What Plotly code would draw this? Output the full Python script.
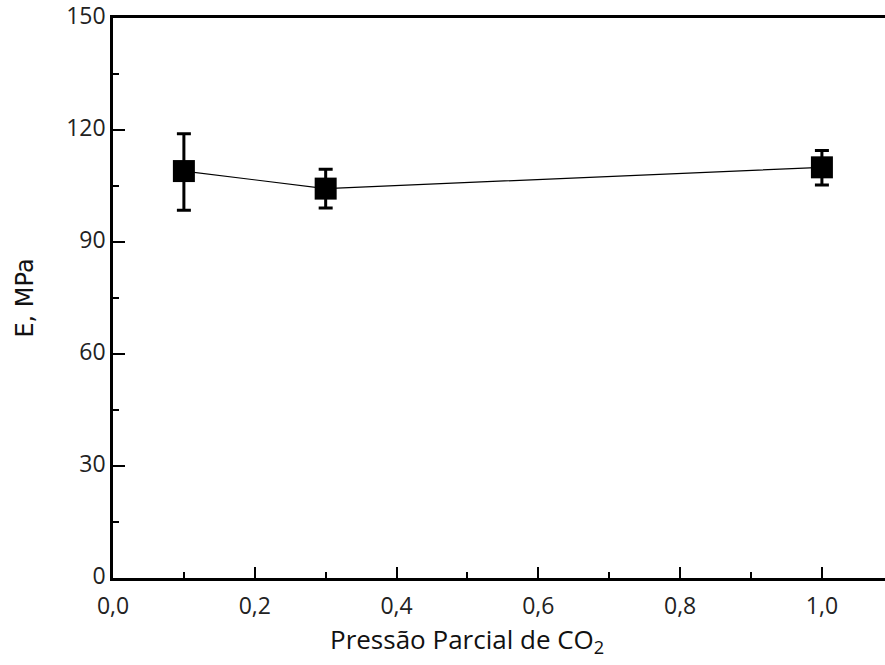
import plotly.graph_objects as go

# Data
pressure = [0.1, 0.3, 1.0]
modulus = [109.0, 104.3, 110.0]
err_plus = [10.0, 5.2, 4.5]
err_minus = [10.5, 5.2, 4.7]

x_ticks = [0.0, 0.2, 0.4, 0.6, 0.8, 1.0]
x_tick_labels = ["0,0", "0,2", "0,4", "0,6", "0,8", "1,0"]
y_ticks = [0, 30, 60, 90, 120, 150]
y_tick_labels = ["0", "30", "60", "90", "120", "150"]

fig = go.Figure()
fig.add_trace(go.Scatter(
    x=pressure, y=modulus,
    mode="lines+markers",
    line=dict(color="black", width=1.2),
    marker=dict(symbol="square", size=22, color="black"),
    error_y=dict(type="data", symmetric=False, array=err_plus, arrayminus=err_minus,
                 color="black", thickness=3, width=7),
    showlegend=False,
))

tick_font = dict(family="Open Sans", size=23, color="#222")

fig.update_layout(
    width=885, height=665,
    margin=dict(l=113, r=0, t=18, b=87),
    paper_bgcolor="white", plot_bgcolor="white",
    xaxis=dict(
        range=[0, 1.089], showgrid=False, zeroline=False, automargin=False,
        showline=True, linecolor="black", linewidth=2.5, mirror=True,
        ticks="inside", ticklen=11, tickwidth=2, tickcolor="black",
        tickvals=x_ticks, ticktext=x_tick_labels, tickfont=tick_font,
        ticklabelstandoff=6,
        minor=dict(ticks="inside", ticklen=6, tickwidth=2, tickcolor="black", dtick=0.1, tick0=0),
    ),
    yaxis=dict(
        range=[0, 150], showgrid=False, zeroline=False, automargin=False,
        showline=True, linecolor="black", linewidth=2.5,
        ticks="inside", ticklen=12, tickwidth=2, tickcolor="black",
        tickvals=y_ticks, ticktext=y_tick_labels, tickfont=tick_font,
        ticklabelshift=-2, ticklabeloverflow="allow",
        minor=dict(ticks="inside", ticklen=6, tickwidth=2, tickcolor="black", dtick=15, tick0=0),
        title=dict(text="E, MPa", font=dict(family="DejaVu Sans", size=24, color="#111"), standoff=26),
    ),
    annotations=[dict(
        text="Pressão Parcial de CO<sub>2</sub>",
        xref="paper", yref="paper", x=0.2785, y=-0.111,
        xanchor="left", yanchor="middle", showarrow=False,
        font=dict(family="Open Sans", size=26, color="#111"),
    )],
)

fig.write_html("out.html")
